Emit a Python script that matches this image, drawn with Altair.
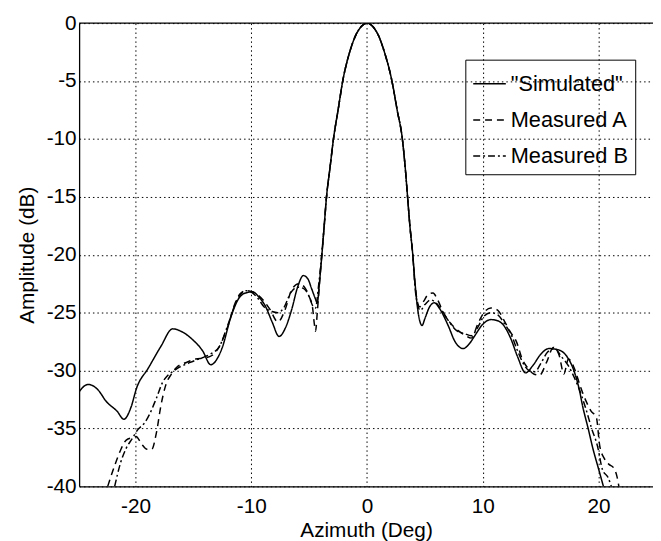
import altair as alt
import pandas as pd

series_names = ['"Simulated"', "Measured A", "Measured B"]

# main lobe (shared shape)
lobe_x = [-3.7, -3.5, -3.2, -2.9, -2.5, -2.1, -1.5, -1.0, -0.5, 0.0, 0.5, 1.0, 1.5, 2.15, 2.6, 3.05, 3.3, 3.5, 3.7, 3.95]
lobe_y = [-17.5, -15.0, -12.5, -10.0, -7.5, -5.0, -2.5, -1.1, -0.3, 0.0, -0.3, -1.1, -2.5, -5.0, -7.5, -10.0, -12.5, -15.0, -17.5, -20.0]

sim_left_x = [-25.0, -24.1, -23.3, -22.5, -21.6, -21.0, -20.4, -19.9, -18.9, -17.8, -16.8, -15.9, -15.1, -14.2,
              -13.5, -12.9, -12.5, -11.8, -11.1, -10.5, -9.9, -9.3, -8.8, -8.2, -7.6, -7.0, -6.5, -6.0, -5.5,
              -5.1, -4.8, -4.5, -4.3, -4.1, -3.9]
sim_left_y = [-32.0, -31.2, -31.6, -32.7, -33.5, -34.2, -33.2, -31.5, -29.8, -27.9, -26.4, -26.7, -27.3, -28.3,
              -29.5, -28.9, -28.0, -25.5, -23.8, -23.3, -23.2, -23.7, -24.4, -25.8, -27.05, -26.2, -24.7, -22.8, -21.8,
              -22.1, -22.9, -23.7, -24.15, -22.3, -20.0]
sim_right_x = [4.15, 4.35, 4.55, 4.75, 5.0, 5.4, 5.8, 6.3, 7.0, 7.6, 8.3, 8.9, 9.3, 10.0, 10.7, 11.3, 11.8, 12.4,
               13.0, 13.7, 14.3, 15.0, 15.7, 16.5, 17.2, 17.9, 18.3, 18.65, 19.1, 19.5, 20.0, 20.5]
sim_right_y = [-22.5, -24.5, -25.7, -26.1, -25.5, -24.5, -24.15, -24.7, -26.1, -27.5, -28.1, -27.6, -27.0, -26.0,
               -25.6, -25.7, -26.1, -27.2, -28.8, -30.2, -29.6, -28.6, -28.1, -28.2, -28.7, -30.1, -31.5, -33.2,
               -35.0, -36.7, -38.5, -40.3]

a_left_x = [-22.4, -21.8, -21.3, -20.8, -20.3, -19.95, -19.5, -19.0, -18.6, -18.2, -17.8, -17.4, -16.9, -16.3,
            -15.6, -14.8, -14.0, -13.4, -12.8, -12.0, -11.4, -10.9, -10.4, -9.9, -9.4, -8.9, -8.4, -7.7, -7.1,
            -6.5, -5.9, -5.4, -5.0, -4.7, -4.55, -4.45, -4.3, -4.1]
a_left_y = [-40.0, -38.2, -36.9, -36.0, -35.8, -35.7, -36.3, -36.8, -36.8, -35.4, -33.0, -31.3, -30.3, -29.6,
            -29.3, -29.0, -28.9, -28.7, -28.0, -26.1, -24.2, -23.3, -23.1, -23.2, -23.5, -24.0, -24.7, -25.8, -24.8,
            -23.0, -22.5, -22.8, -23.6, -24.6, -26.0, -26.6, -25.0, -22.4]
a_right_x = [4.1, 4.3, 4.55, 4.9, 5.3, 5.7, 6.1, 6.6, 7.2, 7.8, 8.4, 9.0, 9.6, 10.1, 10.7, 11.3, 11.9, 12.4, 12.9,
             13.4, 13.9, 14.4, 14.9, 15.5, 16.1, 16.6, 17.0, 17.4, 17.9, 18.4, 18.9, 19.35, 19.8, 20.1, 20.5, 20.9,
             21.3, 21.6, 21.8]
a_right_y = [-22.0, -23.8, -24.5, -24.0, -23.4, -23.3, -23.9, -25.0, -25.9, -26.5, -26.9, -27.2, -25.9, -25.0,
             -24.6, -24.8, -25.8, -26.7, -27.5, -29.0, -29.8, -30.3, -30.4, -29.3, -28.0, -28.7, -30.3, -29.0, -29.8,
             -31.3, -32.6, -33.5, -34.0, -36.5, -37.6, -38.1, -38.4, -39.2, -40.3]

b_left_x = [-21.8, -21.3, -20.8, -20.3, -19.8, -19.2, -18.8, -18.2, -17.65, -17.2, -16.8, -16.2, -15.5, -14.8,
            -14.0, -13.4, -12.8, -12.0, -11.4, -10.9, -10.4, -9.9, -9.4, -8.9, -8.2, -7.7, -7.2, -6.6, -6.0, -5.5,
            -5.0, -4.7, -4.45, -4.2]
b_left_y = [-40.0, -38.0, -36.7, -35.9, -35.1, -34.5, -33.8, -32.4, -31.0, -30.4, -30.1, -29.7, -29.4, -29.1,
            -28.8, -28.5, -28.0, -26.0, -24.3, -23.4, -23.1, -23.3, -23.8, -24.5, -24.9, -25.0, -24.6, -23.3, -22.8,
            -22.9, -23.6, -24.4, -24.6, -22.8]
b_right_x = [4.1, 4.3, 4.6, 5.0, 5.5, 6.0, 6.5, 7.1, 7.8, 8.4, 9.0, 9.6, 10.1, 10.7, 11.3, 11.9, 12.5, 13.0, 13.5,
             14.0, 14.5, 15.0, 15.6, 16.2, 16.8, 17.4, 17.9, 18.4, 18.9, 19.4, 19.9, 20.35, 20.8, 21.2]
b_right_y = [-22.3, -24.0, -24.8, -24.3, -23.9, -24.2, -24.9, -25.8, -26.6, -26.8, -27.0, -26.2, -25.3, -25.0,
             -25.2, -26.0, -27.0, -28.3, -29.4, -30.0, -30.1, -29.4, -28.4, -28.1, -28.8, -29.6, -30.6, -31.8, -33.3,
             -35.0, -36.5, -38.6, -39.2, -40.3]

x_ticks = [-20, -10, 0, 10, 20]
y_ticks = [0, -5, -10, -15, -20, -25, -30, -35, -40]

rows = []
for name, xs, ys in [
    (series_names[0], sim_left_x + lobe_x + sim_right_x, sim_left_y + lobe_y + sim_right_y),
    (series_names[1], a_left_x + lobe_x + a_right_x, a_left_y + lobe_y + a_right_y),
    (series_names[2], b_left_x + lobe_x + b_right_x, b_left_y + lobe_y + b_right_y),
]:
    for i, (xv, yv) in enumerate(zip(xs, ys)):
        rows.append({"series": name, "az": xv, "amp": yv, "i": i})
df = pd.DataFrame(rows)

FONT = "Liberation Sans"
xscale = alt.Scale(domain=[-24.87, 24.70], nice=False, zero=False)
yscale = alt.Scale(domain=[-40, 0], nice=False, zero=False)

lines = alt.Chart(df).mark_line(color="black", strokeWidth=1.5, clip=True, interpolate="monotone").encode(
    x=alt.X("az:Q", scale=xscale, title="Azimuth (Deg)",
            axis=alt.Axis(values=x_ticks, grid=True, gridDash=[1.5, 3], gridColor="black", gridOpacity=1,
                          ticks=False, labelPadding=9, titlePadding=4,
                          labelExpr="datum.value + ''")),
    y=alt.Y("amp:Q", scale=yscale, title="Amplitude (dB)",
            axis=alt.Axis(values=y_ticks, grid=True, gridDash=[1.5, 3], gridColor="black", gridOpacity=1,
                          ticks=False, labelPadding=3, titlePadding=9,
                          labelExpr="datum.value + ''")),
    strokeDash=alt.StrokeDash("series:N", scale=alt.Scale(domain=series_names,
                                                           range=[[1, 0], [7, 5], [7, 3, 2, 3]]),
                              sort=series_names,
                              legend=alt.Legend(orient="none", legendX=391, legendY=37, title=None,
                                                symbolType="stroke", symbolSize=1089, symbolStrokeWidth=1.5,
                                                symbolStrokeColor="black", labelFontSize=22, labelFont=FONT,
                                                labelColor="black", labelOffset=4, padding=7, rowPadding=7.5,
                                                strokeColor="black")),
    order="i:Q",
)

top = alt.Chart(pd.DataFrame({"amp": [0]})).mark_rule(color="black", strokeWidth=1.3).encode(
    y=alt.Y("amp:Q", scale=yscale)
)

chart = alt.layer(lines, top).properties(
    width=581, height=469,
    autosize=alt.AutoSizeParams(type="none"),
    padding={"left": 72, "top": 12, "right": 0, "bottom": 52},
).configure_view(stroke=None).configure_axis(
    domainColor="black", domainWidth=1.3, labelFont=FONT, titleFont=FONT, labelFontSize=21, titleFontSize=21,
    labelColor="black", titleColor="black", titleFontWeight="normal",
)

chart.save("out.html", embed_options={"renderer": "svg", "actions": False})
